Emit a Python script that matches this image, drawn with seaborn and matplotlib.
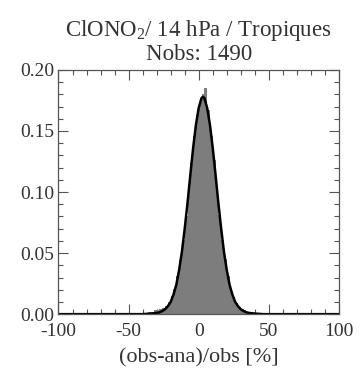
import numpy as np
import pandas as pd
import matplotlib
matplotlib.use("Agg")
import matplotlib.pyplot as plt
import seaborn as sns
from matplotlib.ticker import MultipleLocator

# Histogram (bin width 2, centres)
hist_centers = [-35, -33, -31, -29, -27, -25, -23, -21, -19, -17, -15, -13, -11, -9, -7, -5, -3, -1,
                1, 3, 5, 7, 9, 11, 13, 15, 17, 19, 21, 23, 25, 27, 29, 31, 33, 35]
hist_values = [0.002, 0.002, 0.003, 0.003, 0.004, 0.005, 0.007, 0.010, 0.015, 0.021, 0.031, 0.044,
               0.061, 0.080, 0.102, 0.124, 0.146, 0.163, 0.174, 0.180, 0.185, 0.167, 0.146, 0.126,
               0.103, 0.081, 0.061, 0.045, 0.031, 0.021, 0.014, 0.009, 0.006, 0.004, 0.003, 0.002]

# Fitted curve
fit_x = [-100, -40, -34, -30, -28, -26, -24, -22, -20, -18, -16, -14, -12, -10, -8, -6, -4, -2, 0,
         2, 3, 4, 6, 8, 10, 12, 14, 16, 18, 20, 22, 24, 26, 28, 30, 32, 34, 36, 40, 46, 100]
fit_y = [0, 0, 0.0005, 0.001, 0.0015, 0.0025, 0.004, 0.0065, 0.010, 0.016, 0.024, 0.036, 0.051,
         0.070, 0.091, 0.114, 0.136, 0.155, 0.169, 0.177, 0.178, 0.177, 0.169, 0.155, 0.136, 0.114,
         0.091, 0.070, 0.051, 0.036, 0.024, 0.016, 0.010, 0.0065, 0.004, 0.0025, 0.0015, 0.001,
         0.0005, 0, 0]

title = "ClONO$_2$/ 14 hPa / Tropiques\nNobs: 1490"
xlabel = "(obs-ana)/obs [%]"

sns.set_style("ticks")
plt.rcParams['font.family'] = ['Liberation Serif']
plt.rcParams['mathtext.fontset'] = 'custom'
plt.rcParams['mathtext.rm'] = 'Liberation Serif'
plt.rcParams['mathtext.it'] = 'Liberation Serif'
plt.rcParams['axes.unicode_minus'] = False

fig = plt.figure(figsize=(3.61, 3.74), dpi=100)
ax = fig.add_axes([0.162, 0.160, 0.777, 0.653])

hdf = pd.DataFrame({"c": hist_centers, "w": hist_values})
sns.histplot(data=hdf, x="c", weights="w", binwidth=2, binrange=(-36, 36), element="step",
             fill=True, color="#7d7d7d", alpha=1.0, ax=ax, stat="count")
for p in ax.collections:
    p.set_linewidth(0)
df = pd.DataFrame({"x": fit_x, "y": fit_y})
sns.lineplot(data=df, x="x", y="y", color="black", linewidth=1.8, ax=ax, sort=False)

ax.set_xlim(-100, 100)
ax.set_ylim(0, 0.2)
ax.xaxis.set_major_locator(MultipleLocator(50))
ax.xaxis.set_minor_locator(MultipleLocator(10))
ax.yaxis.set_major_locator(MultipleLocator(0.05))
ax.yaxis.set_minor_locator(MultipleLocator(0.01))
ax.yaxis.set_major_formatter(matplotlib.ticker.FormatStrFormatter('%.2f'))
ax.tick_params(which='both', direction='in', top=True, right=True, color='#555555', width=0.8,
               labelsize=14, labelcolor='#333333')
ax.tick_params(which='major', length=7)
ax.tick_params(axis='x', which='major', pad=6.5)
ax.tick_params(axis='y', which='major', pad=3)
ax.tick_params(which='minor', length=3.5)
for s in ax.spines.values():
    s.set_color('#555555')
    s.set_linewidth(0.9)
ax.set_xlabel(xlabel, fontsize=16, color='#333333', labelpad=6)
ax.set_ylabel("")
ax.set_title(title, fontsize=16.5, color='#333333', linespacing=1.05, pad=7)

fig.savefig("out.png", dpi=100)
